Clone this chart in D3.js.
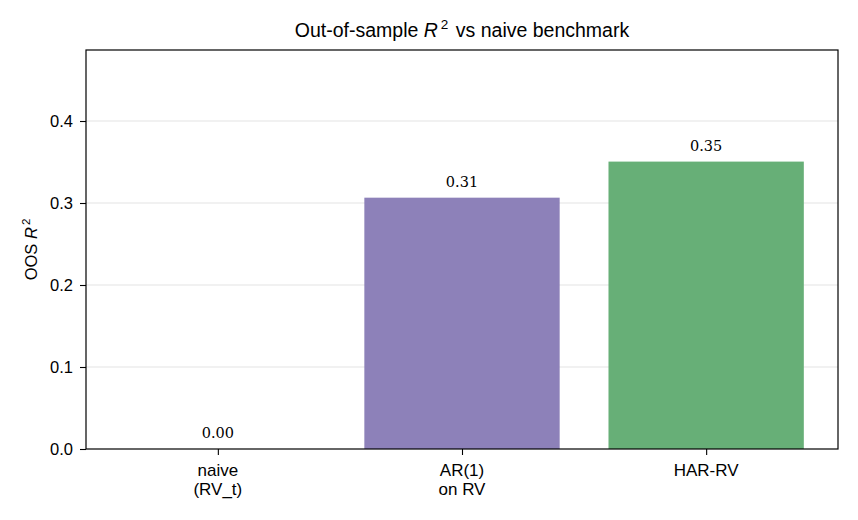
<!DOCTYPE html>
<html>
<head>
<meta charset="utf-8">
<script src="https://cdn.jsdelivr.net/npm/d3@7"></script>
<style>
  body { margin: 0; background: #fff; }
  text { font-family: "Liberation Sans", Arial, sans-serif; fill: #000; }
  .value-label { font-family: "DejaVu Serif", serif; font-size: 14.5px; }
  .grid line { stroke: #dcdcdc; stroke-width: 0.8; }
</style>
</head>
<body>
<div id="wrapper"></div>
<script>
// data
const models = ["naive\n(RV_t)", "AR(1)\non RV", "HAR-RV"]
const oosR2 = [0.0, 0.3065, 0.3505]
const valueLabels = ["0.00", "0.31", "0.35"]
const barColors = [null, "#8d81b9", "#67af77"]
const yTicks = [0, 0.1, 0.2, 0.3, 0.4]

const dimensions = {
  width: 858,
  height: 520,
  margin: { top: 50, right: 20, bottom: 71, left: 86 },
}
dimensions.boundedWidth = dimensions.width - dimensions.margin.left - dimensions.margin.right
dimensions.boundedHeight = dimensions.height - dimensions.margin.top - dimensions.margin.bottom

const wrapper = d3.select("#wrapper")
  .append("svg")
    .attr("width", dimensions.width)
    .attr("height", dimensions.height)

const bounds = wrapper.append("g")
    .attr("transform", `translate(${dimensions.margin.left}, ${dimensions.margin.top})`)

// scales (matplotlib-style categorical positions with 0.05 margins)
const xScale = d3.scaleLinear()
  .domain([-0.54, 2.54])
  .range([0, dimensions.boundedWidth])
const barWidth = xScale(0.8) - xScale(0)

const yScale = d3.scaleLinear()
  .domain([0, 0.4866])
  .range([dimensions.boundedHeight, 0])

// grid
bounds.append("g")
    .attr("class", "grid")
  .selectAll("line")
  .data(yTicks.slice(1))
  .enter().append("line")
    .attr("x1", 0)
    .attr("x2", dimensions.boundedWidth)
    .attr("y1", d => yScale(d))
    .attr("y2", d => yScale(d))

// bars
bounds.selectAll(".bar")
  .data(oosR2)
  .enter().append("rect")
    .attr("class", "bar")
    .attr("x", (d, i) => xScale(i) - barWidth / 2)
    .attr("width", barWidth)
    .attr("y", d => yScale(d))
    .attr("height", d => dimensions.boundedHeight - yScale(d))
    .attr("fill", (d, i) => barColors[i] || "none")

bounds.selectAll(".value-label")
  .data(oosR2)
  .enter().append("text")
    .attr("class", "value-label")
    .attr("x", (d, i) => xScale(i))
    .attr("y", d => yScale(d) - 11)
    .attr("text-anchor", "middle")
    .text((d, i) => valueLabels[i])

// axes
const yAxis = bounds.append("g")
  .call(d3.axisLeft(yScale).tickValues(yTicks).tickFormat(d3.format(".1f")).tickSize(6).tickPadding(7))
yAxis.select(".domain").remove()
yAxis.selectAll("line").attr("stroke-width", 1.1)
yAxis.selectAll("text")
    .attr("font-size", null)
    .attr("font-family", null)
    .style("font-size", "16.5px")
    .attr("dy", "0.36em")

const xAxis = bounds.append("g")
    .attr("transform", `translate(0, ${dimensions.boundedHeight})`)
  .call(d3.axisBottom(xScale).tickValues([0, 1, 2]).tickFormat("").tickSize(6))
xAxis.select(".domain").remove()
xAxis.selectAll("line").attr("stroke-width", 1.1)

models.forEach((m, i) => {
  const t = bounds.append("text")
      .attr("x", xScale(i))
      .attr("y", dimensions.boundedHeight + 27)
      .attr("text-anchor", "middle")
      .style("font-size", "17px")
  m.split("\n").forEach((line, j) => {
    t.append("tspan")
        .attr("x", xScale(i))
        .attr("dy", j === 0 ? 0 : 19)
        .text(line)
  })
})

// frame
bounds.append("rect")
    .attr("width", dimensions.boundedWidth)
    .attr("height", dimensions.boundedHeight)
    .attr("fill", "none")
    .attr("stroke", "#000")
    .attr("stroke-width", 1.2)

// y label
const yLabel = wrapper.append("text")
    .attr("transform", `translate(37, ${dimensions.margin.top + dimensions.boundedHeight / 2}) rotate(-90)`)
    .attr("text-anchor", "middle")
    .style("font-size", "16.5px")
yLabel.append("tspan").text("OOS ")
yLabel.append("tspan").style("font-style", "italic").text("R")
yLabel.append("tspan").attr("dx", 2).attr("dy", -7).style("font-size", "11.5px").text("2")

// title
const title = wrapper.append("text")
    .attr("x", dimensions.margin.left + dimensions.boundedWidth / 2)
    .attr("y", 37)
    .attr("text-anchor", "middle")
    .style("font-size", "19.5px")
title.append("tspan").text("Out-of-sample ")
title.append("tspan").style("font-style", "italic").text("R")
title.append("tspan").attr("dx", 3).attr("dy", -8).style("font-size", "13.5px").text("2")
title.append("tspan").attr("dx", 2).attr("dy", 8).text(" vs naive benchmark")
</script>
</body>
</html>
